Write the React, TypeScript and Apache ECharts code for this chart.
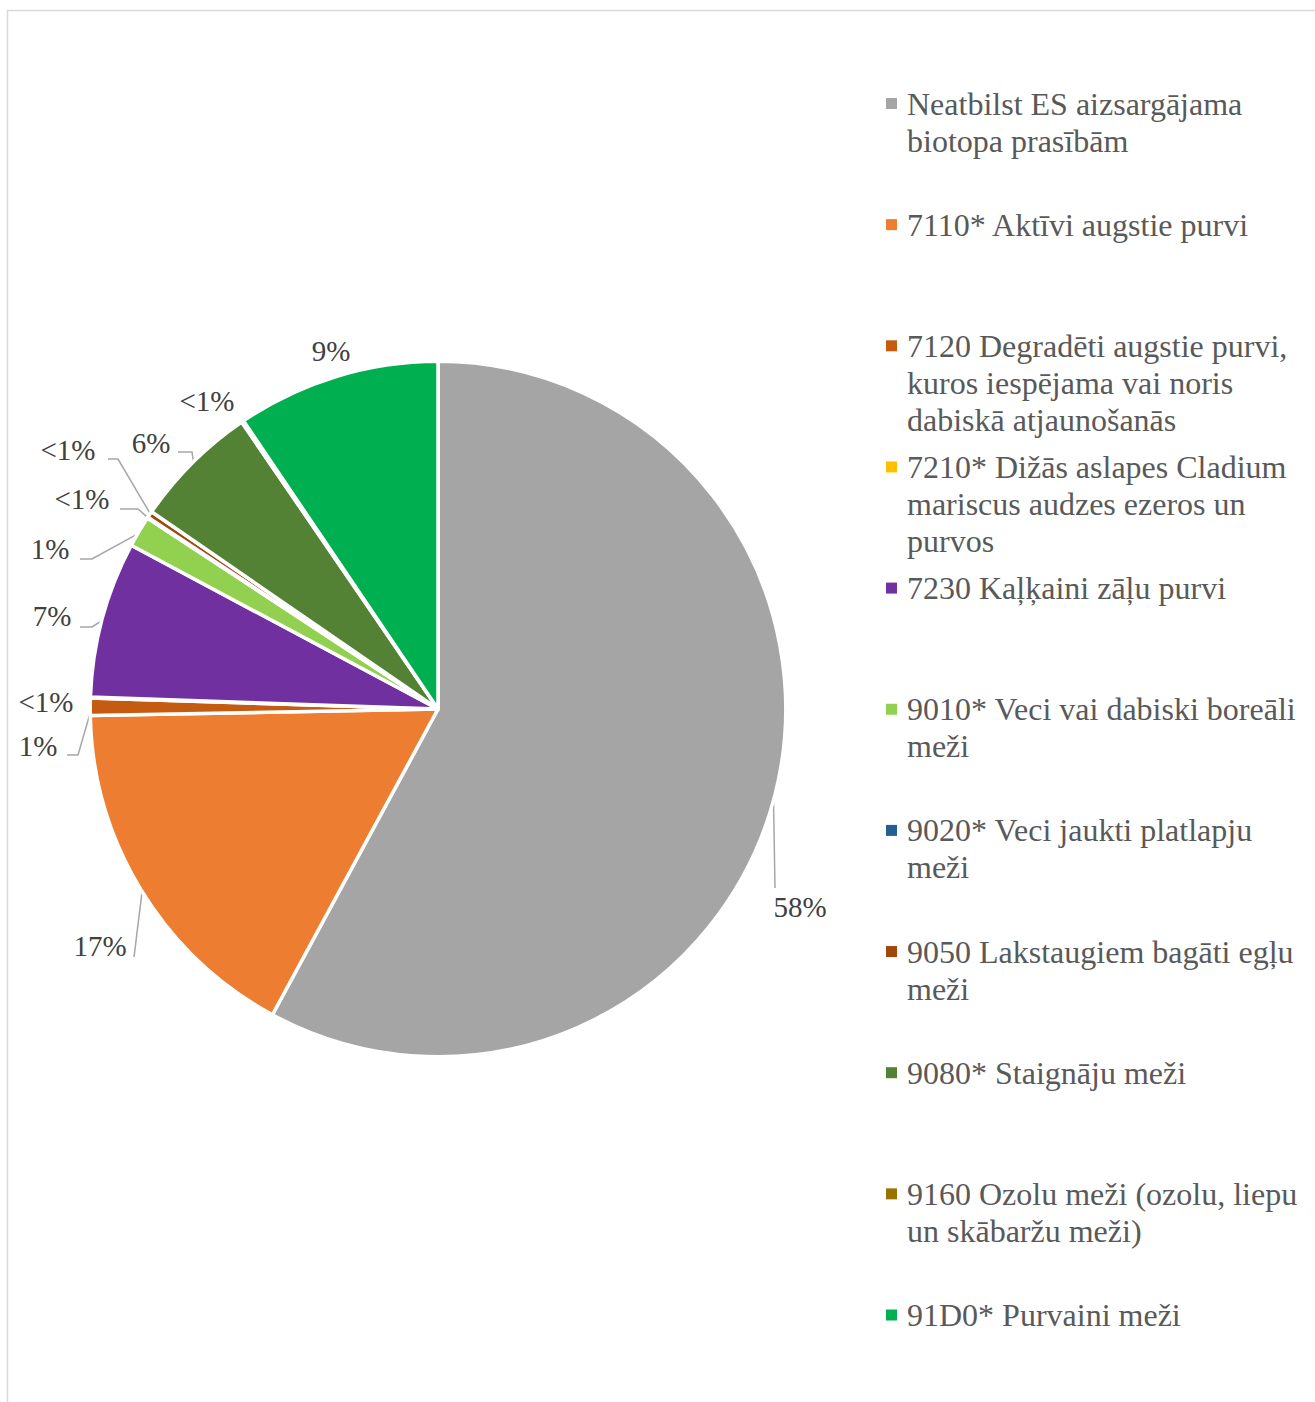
import React, { useEffect, useRef } from "react";
import * as echarts from "echarts";

// ---- data ----
const categories: string[] = [
  "Neatbilst ES aizsargājama biotopa prasībām",
  "7110* Aktīvi augstie purvi",
  "7120 Degradēti augstie purvi, kuros iespējama vai noris dabiskā atjaunošanās",
  "7210* Dižās aslapes Cladium mariscus audzes ezeros un purvos",
  "7230 Kaļķaini zāļu purvi",
  "9010* Veci vai dabiski boreāli meži",
  "9020* Veci jaukti platlapju meži",
  "9050 Lakstaugiem bagāti egļu meži",
  "9080* Staignāju meži",
  "9160 Ozolu meži (ozolu, liepu un skābaržu meži)",
  "91D0* Purvaini meži",
];
const values: number[] = [57.9, 16.8, 0.8, 0.05, 7.25, 1.45, 0.05, 0.3, 5.85, 0.1, 9.45];

// ---- presentation ----
const colors: string[] = [
  "#A5A5A5", "#ED7D31", "#C55A11", "#FFC000", "#7030A0", "#92D050",
  "#255E91", "#9E480E", "#548235", "#997300", "#00B050",
];
const legendLines: string[][] = [
  ["Neatbilst ES aizsargājama", "biotopa prasībām"],
  ["7110* Aktīvi augstie purvi"],
  ["7120 Degradēti augstie purvi,", "kuros iespējama vai noris", "dabiskā atjaunošanās"],
  ["7210* Dižās aslapes Cladium", "mariscus audzes ezeros un", "purvos"],
  ["7230 Kaļķaini zāļu purvi"],
  ["9010* Veci vai dabiski boreāli", "meži"],
  ["9020* Veci jaukti platlapju", "meži"],
  ["9050 Lakstaugiem bagāti egļu", "meži"],
  ["9080* Staignāju meži"],
  ["9160 Ozolu meži (ozolu, liepu", "un skābaržu meži)"],
  ["91D0* Purvaini meži"],
];
// label text centres and leader-line bends (layout only)
const labelAnchors: [number, number][] = [
  [800, 907], [100, 946], [38, 746], [46, 702], [52, 616], [50, 549],
  [82, 499], [68, 450], [151, 443], [207, 401], [331, 351],
];
const leaderTail: ([number, number][] | null)[] = [
  [[775, 888]],
  [[134, 957]],
  [[78, 755], [67, 755]],
  null,
  [[92, 627], [80, 627]],
  [[92, 559], [80, 559]],
  [[138, 509], [120, 509]],
  [[118, 459], [108, 459]],
  [[192, 452], [178, 452]],
  null,
  null,
];

const FONT = "'Liberation Serif', 'Times New Roman', Times, serif";
const CX = 438;
const CY = 709;
const R_VISIBLE = 346;
const BORDER = 3.5;
const LEGEND_TOP0 = 103.5;
const LEGEND_STEP = 121.15;
const LH = 37;

export default function App() {
  const ref = useRef<HTMLDivElement | null>(null);

  useEffect(() => {
    if (!ref.current) return;
    const chart = echarts.init(ref.current, undefined, { renderer: "svg" });

    const total = values.reduce((a, b) => a + b, 0);
    const midAngles = values.map((v, i) => {
      const before = values.slice(0, i).reduce((a, b) => a + b, 0);
      return ((before + v / 2) / total) * Math.PI * 2;
    });

    const legends = categories.map((name, i) => {
      const n = legendLines[i].length;
      const iconCenter = LEGEND_TOP0 + LEGEND_STEP * i;
      // leading blank lines keep the first text line level with the marker
      const text = "\n".repeat(n - 1) + legendLines[i].join("\n");
      return {
        data: [name],
        orient: "vertical",
        left: 886,
        top: iconCenter - ((2 * n - 1) * LH) / 2,
        padding: 0,
        itemWidth: 11,
        itemHeight: 11,
        itemGap: 0,
        icon: "rect",
        selectedMode: false,
        itemStyle: { borderWidth: 0 },
        formatter: () => text,
        textStyle: {
          fontFamily: FONT,
          fontSize: 32,
          color: "#595959",
          lineHeight: LH,
          padding: [0, 0, 0, 5],
        },
      };
    });

    chart.setOption({
      animation: false,
      backgroundColor: "#ffffff",
      graphic: [
        {
          type: "rect",
          shape: { x: 7.5, y: 10.5, width: 1400, height: 1500 },
          style: { fill: "none", stroke: "#d9d9d9", lineWidth: 1.5 },
          silent: true,
        },
      ],
      legend: legends,
      series: [
        {
          type: "pie",
          center: [CX, CY],
          radius: R_VISIBLE + BORDER / 2,
          startAngle: 90,
          clockwise: true,
          avoidLabelOverlap: false,
          emphasis: { disabled: true },
          itemStyle: { borderColor: "#ffffff", borderWidth: BORDER },
          label: {
            show: true,
            position: "outside",
            fontFamily: FONT,
            fontSize: 29,
            color: "#404040",
            formatter: (p: any) => {
              const r = Math.round(p.percent);
              return r < 1 ? "<1%" : r + "%";
            },
          },
          labelLine: {
            show: true,
            smooth: false,
            lineStyle: { color: "#a6a6a6", width: 1.5 },
          },
          labelLayout: (p: any) => {
            const i = p.dataIndex;
            const [x, y] = labelAnchors[i];
            const a = midAngles[i];
            const edge: [number, number] = [
              CX + R_VISIBLE * Math.sin(a),
              CY - R_VISIBLE * Math.cos(a),
            ];
            const out: any = { x, y, align: "center", verticalAlign: "middle" };
            const tail = leaderTail[i];
            if (tail) out.labelLinePoints = [edge, ...tail];
            return out;
          },
          data: categories.map((name, i) => ({
            name,
            value: values[i],
            itemStyle: { color: colors[i] },
            labelLine: { show: leaderTail[i] !== null },
          })),
        },
      ],
    });

    return () => chart.dispose();
  }, []);

  return (
    <div
      ref={ref}
      style={{ position: "fixed", left: 0, top: 0, width: 1315, height: 1402, background: "#fff" }}
    />
  );
}
